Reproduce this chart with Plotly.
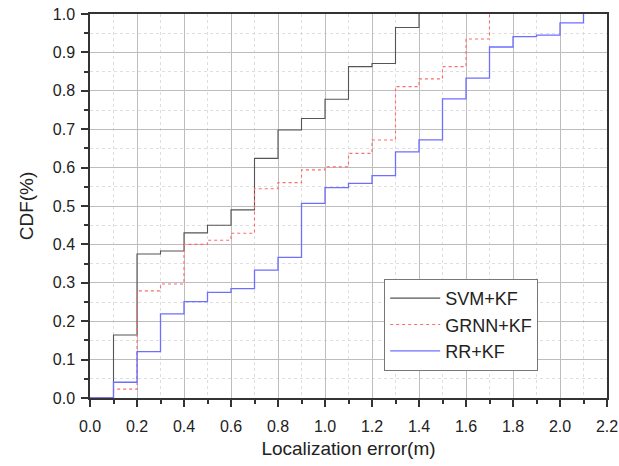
import plotly.graph_objects as go

# Step CDF values at error thresholds 0.0, 0.1, 0.2, ...
svm_x = [0.0, 0.1, 0.2, 0.3, 0.4, 0.5, 0.6, 0.7, 0.8, 0.9, 1.0, 1.1, 1.2, 1.3, 1.4]
svm_y = [0.0, 0.164, 0.375, 0.383, 0.430, 0.450, 0.490, 0.624, 0.698, 0.728, 0.778, 0.863, 0.871, 0.965, 1.0]

grnn_x = [0.0, 0.1, 0.2, 0.3, 0.4, 0.5, 0.6, 0.7, 0.8, 0.9, 1.0, 1.1, 1.2, 1.3, 1.4, 1.5, 1.6, 1.7]
grnn_y = [0.0, 0.023, 0.279, 0.297, 0.400, 0.411, 0.429, 0.545, 0.561, 0.594, 0.602, 0.637, 0.672, 0.811, 0.831, 0.863, 0.935, 1.0]

rr_x = [0.0, 0.1, 0.2, 0.3, 0.4, 0.5, 0.6, 0.7, 0.8, 0.9, 1.0, 1.1, 1.2, 1.3, 1.4, 1.5, 1.6, 1.7, 1.8, 1.9, 2.0, 2.1]
rr_y = [0.0, 0.041, 0.121, 0.219, 0.251, 0.275, 0.285, 0.333, 0.366, 0.507, 0.548, 0.559, 0.579, 0.641, 0.672, 0.779, 0.833, 0.914, 0.941, 0.945, 0.977, 1.0]

series_names = ["SVM+KF", "GRNN+KF", "RR+KF"]

FONT = "Liberation Sans, Arial, sans-serif"

fig = go.Figure()
fig.add_trace(go.Scatter(x=svm_x, y=svm_y, mode="lines", line_shape="hv",
                         name=series_names[0], line=dict(color="#555555", width=1.1)))
fig.add_trace(go.Scatter(x=grnn_x, y=grnn_y, mode="lines", line_shape="hv",
                         name=series_names[1], line=dict(color="#ff6a6a", width=1.1, dash="dot")))
fig.add_trace(go.Scatter(x=rr_x, y=rr_y, mode="lines", line_shape="hv",
                         name=series_names[2], line=dict(color="#6e6eff", width=1.3)))

axis_common = dict(
    showline=True, linecolor="#333333", linewidth=1.5, mirror=True,
    ticks="outside", ticklen=7, tickcolor="#333333", tickwidth=1.5,
    showgrid=True, gridcolor="#bdbdbd", gridwidth=1,
    zeroline=False, automargin=False,
    tickfont=dict(family=FONT, size=16, color="#222222"),
)

fig.update_xaxes(
    range=[0, 2.2], dtick=0.2, tick0=0, tickformat=".1f",
    ticklabelstandoff=6,
    title=dict(text="Localization error(m)", font=dict(family=FONT, size=19, color="#222222"), standoff=8),
    minor=dict(dtick=0.1, ticks="outside", ticklen=4, tickcolor="#333333", tickwidth=1.5,
               showgrid=True, gridcolor="#dedede", griddash="dot"),
    **axis_common,
)
fig.update_yaxes(
    range=[0, 1.0], dtick=0.1, tick0=0, tickformat=".1f",
    ticklabelstandoff=3,
    title=dict(text="CDF(%)", font=dict(family=FONT, size=19, color="#222222"), standoff=14),
    minor=dict(dtick=0.05, ticks="outside", ticklen=4, tickcolor="#333333", tickwidth=1.5,
               showgrid=True, gridcolor="#dedede", griddash="dot"),
    **axis_common,
)

fig.update_layout(
    width=619, height=466,
    margin=dict(l=90, r=12, t=14, b=68),
    plot_bgcolor="white", paper_bgcolor="white",
    legend=dict(x=0.569, y=0.31, xanchor="left", yanchor="top",
                bgcolor="white", bordercolor="#777777", borderwidth=1,
                font=dict(family=FONT, size=18, color="#222222"),
                tracegroupgap=0, itemwidth=50),
)

fig.write_html("out.html")
